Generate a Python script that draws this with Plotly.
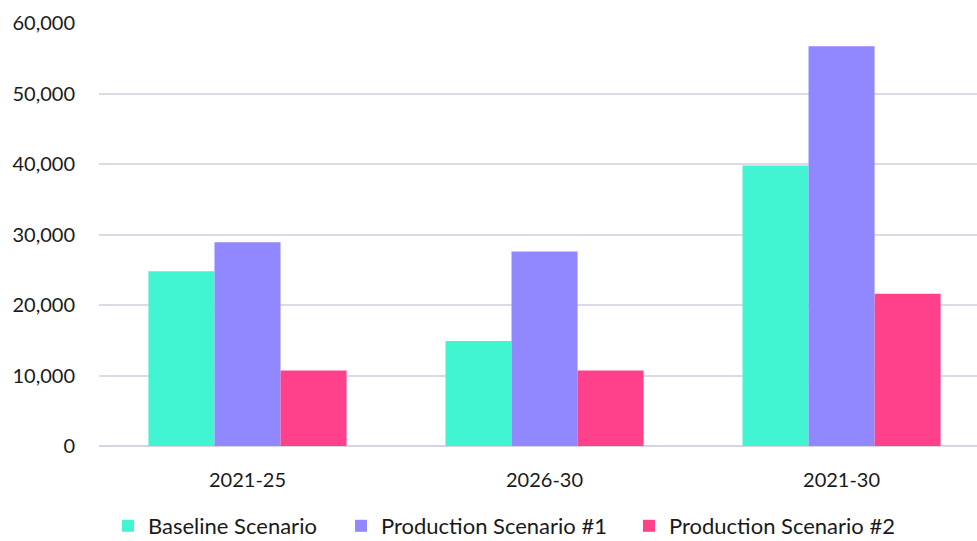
import plotly.graph_objects as go

periods = ["2021-25", "2026-30", "2021-30"]
baseline = [24800, 14900, 39800]
production_1 = [28900, 27600, 56700]
production_2 = [10700, 10700, 21600]

series_names = ["Baseline Scenario", "Production Scenario #1", "Production Scenario #2"]
series_values = [baseline, production_1, production_2]
series_colors = ["#41F5D3", "#9187FF", "#FF418B"]

# each legend entry gets its own legend box so the entries can be spaced freely
legend_ids = ["legend", "legend2", "legend3"]
legend_left_px = [108, 341, 629]

W, H = 977, 541
plot_left, plot_right = 99, 977

fig = go.Figure()
for name, values, color, lid in zip(series_names, series_values, series_colors, legend_ids):
    fig.add_trace(go.Bar(
        x=periods, y=values, name=name, legend=lid,
        marker=dict(color=color, line=dict(width=0)),
    ))

font_family = "Lato, 'Open Sans', sans-serif"
legend_layout = {}
for lid, left in zip(legend_ids, legend_left_px):
    legend_layout[lid] = dict(
        orientation="h", xref="container", x=left / W, xanchor="left",
        yref="container", y=1 - 526 / H, yanchor="middle",
        font=dict(size=22, color="#1a1a1a"),
        itemwidth=30, bgcolor="rgba(0,0,0,0)", borderwidth=0,
    )

fig.update_layout(
    width=W, height=H,
    margin=dict(l=plot_left, r=0, t=23, b=95, autoexpand=False),
    paper_bgcolor="white", plot_bgcolor="white",
    barmode="group", bargap=0.333, bargroupgap=0,
    font=dict(family=font_family, size=20, color="#1a1a1a"),
    showlegend=True,
    xaxis=dict(
        range=[-0.5, 2.456], showgrid=False, showline=False, ticks="",
        ticklabelstandoff=20, tickfont=dict(size=20), automargin=False,
    ),
    yaxis=dict(
        range=[0, 60000], tickvals=[0, 10000, 20000, 30000, 40000, 50000, 60000],
        tickformat=",d", showgrid=True, gridcolor="#DCDAE6", gridwidth=2,
        zeroline=True, zerolinecolor="#D6D4E2", zerolinewidth=2,
        showline=False, ticks="", ticklabelstandoff=23, tickfont=dict(size=20),
        automargin=False,
    ),
    **legend_layout,
)

fig.write_html("out.html")
